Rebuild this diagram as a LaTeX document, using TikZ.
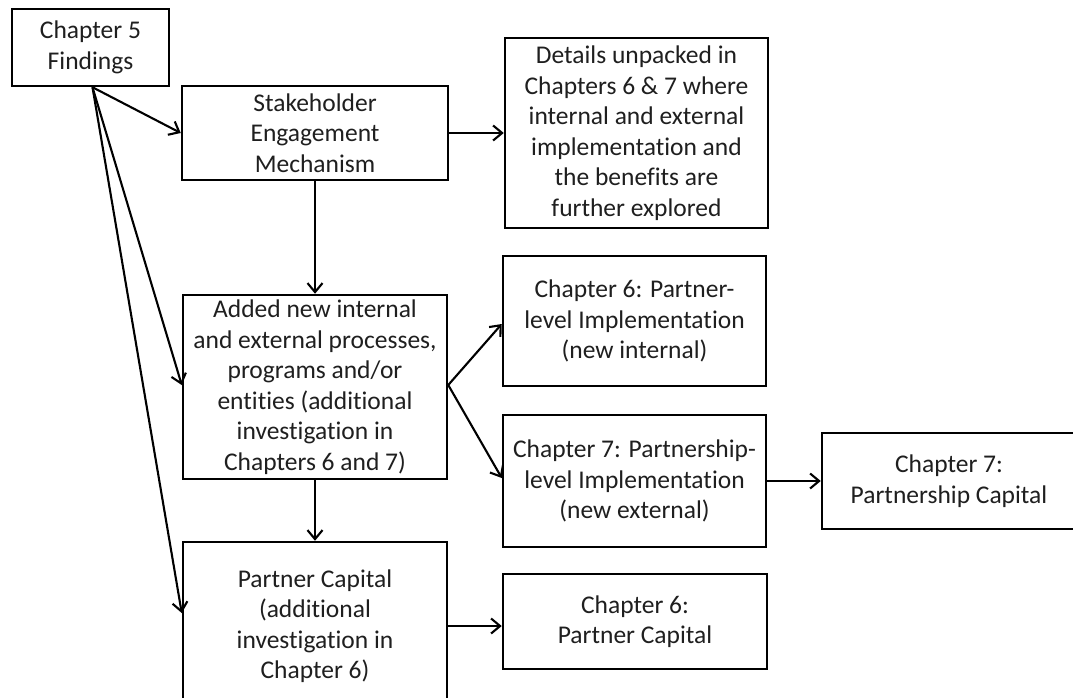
\documentclass[tikz,border=0pt]{standalone}
\usepackage{fontspec}
\setmainfont{Carlito}[Ligatures={NoCommon}]
\usetikzlibrary{arrows.meta}
\tikzset{
  box/.style={draw=black, line width=2.5pt, inner sep=0pt, align=center,
    font=\fontsize{25.5}{30.5}\selectfont, text=black!88},
  conn/.style={line width=2.1pt, -{Straight Barb[length=9pt,width=15pt,line width=2.1pt]}},
}
\begin{document}
\begin{tikzpicture}[x=1pt,y=-1pt]
\useasboundingbox (0,0) rectangle (1073,698);
\clip (0,0) rectangle (1073,698);
\fill[white] (0,0) rectangle (1073,698);
\node[box, minimum width=157pt, minimum height=77pt] (b1) at (90.5,47.5) {Chapter 5\\Findings};
\node[box, minimum width=266pt, minimum height=94pt] (b2) at (315,133) {Stakeholder\\Engagement\\Mechanism};
\node[box, minimum width=263pt, minimum height=190pt] (b3) at (636.5,133) {Details unpacked in\\Chapters 6 \& 7 where\\internal and external\\implementation and\\the benefits are\\further explored};
\node[box, minimum width=264pt, minimum height=184pt] (b4) at (315,387) {Added new internal\\and external processes,\\programs and/or\\entities (additional\\investigation in\\Chapters 6 and 7)};
\node[box, minimum width=263pt, minimum height=130pt] (b5) at (634.5,321) {Chapter 6: Partner-\\level Implementation\\(new internal)};
\node[box, minimum width=263pt, minimum height=132pt] (b6) at (634.5,481) {Chapter 7: Partnership-\\level Implementation\\(new external)};
\node[box, minimum width=254pt, minimum height=96pt] (b7) at (949,481) {Chapter 7:\\Partnership Capital};
\node[box, minimum width=264pt, minimum height=168pt] (b8) at (315,626) {Partner Capital\\(additional\\investigation in\\Chapter 6)};
\node[box, minimum width=264pt, minimum height=95pt] (b9) at (635,621.5) {Chapter 6:\\Partner Capital};
\draw[conn] ([xshift=2pt]b1.south) -- (b2.west);
\draw[conn] ([xshift=2pt]b1.south) -- ([yshift=2pt]b4.west);
\draw[conn] ([xshift=2pt]b1.south) -- ([yshift=13pt]b8.west);
\draw[conn] (b2.east) -- (b3.west);
\draw[conn] (b2.south) -- (b4.north);
\draw[conn] ([yshift=2pt]b4.east) -- ([yshift=-3pt]b5.west);
\draw[conn] ([yshift=2pt]b4.east) -- ([yshift=3pt]b6.west);
\draw[conn] (b6.east) -- (b7.west);
\draw[conn] (b4.south) -- (b8.north);
\draw[conn] (b8.east) -- (b8.east -| b9.west);
\end{tikzpicture}
\end{document}
